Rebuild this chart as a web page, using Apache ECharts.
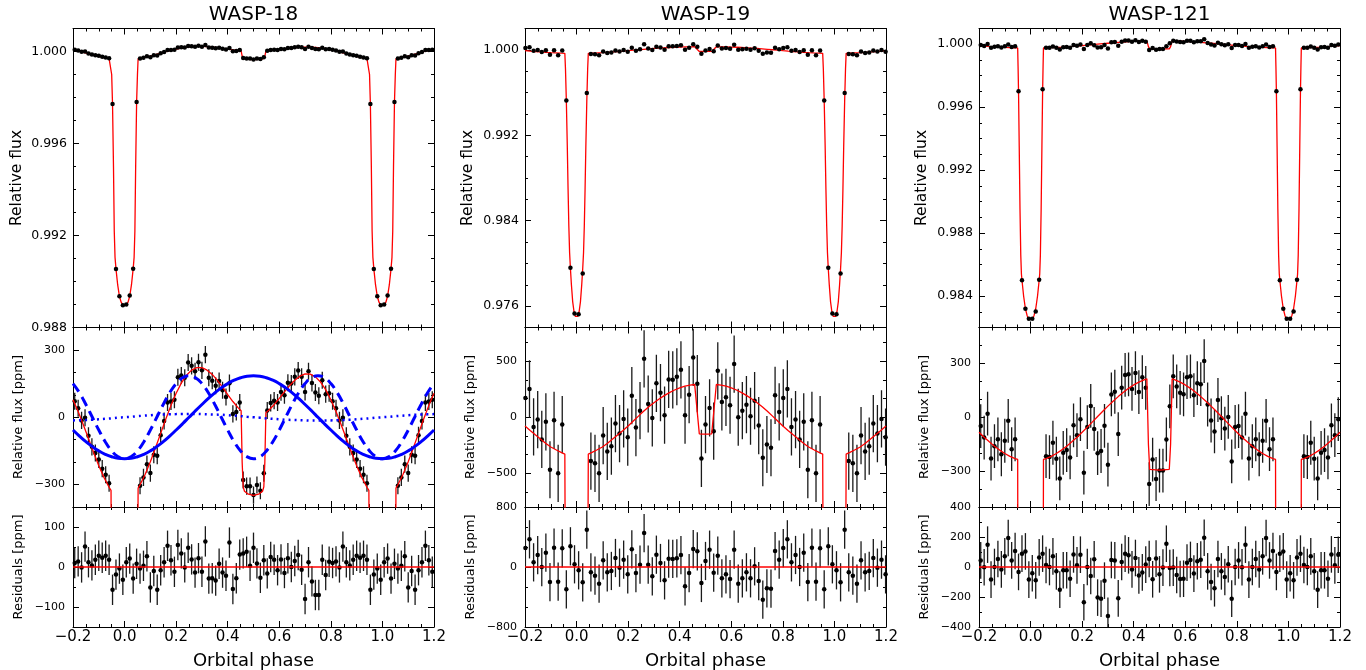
<!DOCTYPE html>
<html><head><meta charset="utf-8">
<script src="https://cdn.jsdelivr.net/npm/echarts@6/dist/echarts.min.js"></script>
<style>html,body{margin:0;padding:0;background:#fff}#c{width:1366px;height:670px}</style>
</head><body><div id="c"></div>
<script>
// ---------------- DATA ----------------
const starNames = ['WASP-18', 'WASP-19', 'WASP-121'];
const binsPerOrbit = [75, 63, 75];          // phase bins per orbit
const firstBinOffset = [-15, -13, -15];     // bin index of first bin (centre = (i+off+0.5)/N)

const xMajorTicks = [-0.2, 0, 0.2, 0.4, 0.6, 0.8, 1.0, 1.2];
const xMinorTicks = [-0.15,-0.1,-0.05,0.05,0.1,0.15,0.25,0.3,0.35,0.45,0.5,0.55,0.65,0.7,0.75,0.85,0.9,0.95,1.05,1.1,1.15];

// relative flux - 1, ppm, one orbit of bins
const w18Flux = [71, 40, -14, -2, -83, -132, -159, -188, -229, -256, -294,
 -2287, -9453, -10640, -11030, -11000, -10610, -9450, -2200,
 -305, -268, -209, -249, -167, -172, -80, -17, 66, 70, 78, 178, 186, 176, 244, 229, 205, 245, 209, 279, 176, 163, 140, 162, 120, 90, 152, 15, 23, 66,
 -280, -307, -307, -347, -302, -328, -250,
 30, 64, 74, 66, 112, 98, 154, 150, 180, 208, 180, 113, 205, 153, 110, 96, 165, 103, 107];
const w18Resid = [10,14,-1,51,12,4,18,28,23,28, 18,-57,-19,-4,-32,12,21,-29,8,-4,
 3,27,-51,-10,-57,-8,12,53,17,-12, 55,34,-1,48,19,-14,22,-12,64,-29,
 -28,-34,8,-14,-22,61,-55,-28,31,34, 38,3,48,9,-27,17,-16,25,18,-8,
 19,-15,22,0,15,30,-7,-80,12,-36, -70,-70,18,-20,13];
const w18Err = 38;

const w19Flux = [172, 252, -86, -21, -198, -41, -468, -27, -500, -65,
 -4740, -20410, -24690, -24750, -20940, -4030,
 -391, -411, -500, -163, -305, -258, -56, -145, -15, -178, 192, -92, 59, 521, 118, -6, 302, 219, 18, 337, 334, 361, 423, 18, 201, 533,
 299, -367, -65, 83, -124,
 414, 136, 178, 107, 474, 0, 59, 112, 9, 148, -74, -361, -243, -272, 195, 47];
const w19Resid = [253,369,62,160,0,191,-200,258,-196,249, -298,276,36,-44,-204,498,-71,-116,-222,89,
 -71,-53,120,-9,98,-98,236,-80,31,453, 31,-124,164,53,-178,111,107,116,160,-258,
 -80,240,209,-213,80,231,-76,151,-151,-98, -160,231,-222,-151,-71,-151,9,-187,-436,-284,
 -289,213,98];
const w19Err = 255;

const w121Flux = [-49, -113, 20, -230, -161, -123, -206, -131, -20, -178, -123,
 -2990, -15000, -16810, -17440, -17440, -16980, -14960, -2860,
 -217, -222, -142, -231, -341, -198, -183, -224, -45, -100, -11, -309, -55, 63, -65, -200, -188, -48, -264, 127, 142, -94, 165, 236, 239, 158, 246, 140,
 223, 164, -372, -236, -344, -297, -297, -124, 61,
 228, 172, 136, 128, 223, 228, 123, 190, 184, 313, 71, -18, -79, 96, -5, -63, 2, -246, -54];
const w121Resid = [44,-2,149,-84,0,53,-16,71,193,44, 107,-33,89,104,-84,-42,-89,64,89,13,
 0,71,-29,-151,-22,-22,-78,84,11,82, -235,0,-60,51,-204,-211,-91,-326,47,44,
 -209,33,89,78,-16,60,-56,-36,16,53, -82,56,-49,-4,155,-7,-4,-53,-80,-78,
 29,47,-44,38,49,195,-29,-100,-142,53, -29,-67,18,-211,0];
const w121Err = 122;

// model curves (ppm) over one orbit, phase -0.2 .. 0.8
const w18ModelPhase = [-0.2,-0.18,-0.16,-0.14,-0.12,-0.10,-0.08,-0.06,
 -0.0525,-0.050,-0.0467,-0.043,-0.040,-0.037,-0.0333,-0.0267,-0.020,-0.0133,-0.0067, 0,
 0.0067,0.0133,0.020,0.0267,0.0333,0.037,0.040,0.043,0.0467,0.050,0.0525,
 0.06,0.08,0.10,0.12,0.14,0.16,0.18,0.20, 0.22,0.24,0.26,0.28,0.30,0.32,0.34,0.36,0.38,0.40,0.42,0.44,
 0.452,0.456,0.460,0.465,0.48,0.50,0.52,0.535,0.540,0.544,0.548,
 0.56,0.58,0.60,0.62,0.64,0.66,0.68,0.70,0.72,0.74,0.76,0.78,0.80];
const w18ModelPpm = [78,26,-33,-95,-157,-216,-268,-312,
 -326,-1000,-2290,-5000,-7800,-8950,-9450,-10150,-10640,-10900,-11020, -11050,
 -11020,-10900,-10640,-10150,-9450,-8950,-7800,-5000,-2200,-1000,-316,
 -301,-254,-198,-136,-72,-8,53,107, 152,187,210,221,221,210,191,164,134,101,70,43,
 29,-200,-310,-330,-343,-348,-343,-330,-310,-200,20,
 32,56,84,113,141,165,183,193,192,180,157,123,78];

const w19ModelPhase = [-0.2,-0.18,-0.16,-0.14,-0.12,-0.10,-0.08,-0.06,
 -0.0455,-0.043,-0.0397,-0.036,-0.033,-0.030,-0.027,-0.0238,-0.020,-0.015,-0.010,-0.005, 0,
 0.005,0.010,0.015,0.020,0.0238,0.027,0.030,0.033,0.036,0.0397,0.043,0.0455,
 0.06,0.08,0.10,0.12,0.14,0.16,0.18,0.20, 0.22,0.24,0.26,0.28,0.30,0.32,0.34,0.36,0.38,0.40,0.42,0.44,
 0.458,0.476,0.49,0.51,0.524,0.542,
 0.56,0.58,0.60,0.62,0.64,0.66,0.68,0.70,0.72,0.74,0.76,0.78,0.80];
const w19ModelPpm = [-78,-119,-157,-194,-232,-265,-290,-313,
 -328,-1800,-4740,-9000,-13000,-16500,-19000,-20500,-22000,-23600,-24500,-24950, -25060,
 -24950,-24500,-23600,-22000,-20500,-19000,-16500,-13000,-9000,-4740,-1800,-328,
 -313,-290,-265,-232,-194,-157,-119,-78, -34,10,54,94,130,163,193,220,243,262,277,287,
 292,-148,-150,-150,-148,292,
 287,277,262,243,220,193,163,130,94,54,10,-34,-78];

const w121ModelPhase = [-0.2,-0.18,-0.16,-0.14,-0.12,-0.10,-0.08,-0.06,
 -0.050,-0.0485,-0.0467,-0.044,-0.041,-0.038,-0.0355,-0.0333,-0.027,-0.020,-0.0133,-0.0067, 0,
 0.0067,0.0133,0.020,0.027,0.0333,0.0355,0.038,0.041,0.044,0.0467,0.0485,0.050,
 0.06,0.08,0.10,0.12,0.14,0.16,0.18,0.20, 0.22,0.24,0.26,0.28,0.30,0.32,0.34,0.36,0.38,0.40,0.42,0.44,
 0.451,0.457,0.462,0.5,0.538,0.543,0.549,
 0.56,0.58,0.60,0.62,0.64,0.66,0.68,0.70,0.72,0.74,0.76,0.78,0.80];
const w121ModelPpm = [-84,-111,-137,-161,-183,-202,-218,-230,
 -235,-1400,-2990,-6500,-10500,-13400,-14600,-15000,-16000,-16810,-17250,-17450, -17500,
 -17450,-17250,-16810,-16000,-15000,-14600,-13400,-10500,-6500,-2990,-1400,-235,
 -230,-218,-202,-183,-161,-137,-111,-84, -55,-26,4,33,62,89,115,139,161,180,196,208,
 214,-150,-290,-295,-290,-150,214,
 208,196,180,161,139,115,89,62,33,4,-26,-55,-84];

// WASP-18 phase-curve components (ppm), phase -0.2 .. 1.2 every 0.025
const w18Reflection = [-57,-84,-109,-131,-150,-165,-176,-183,-185,-183,-176,-165,-150,-131,-109,-84,-57,
 -29,0,29,57,84,109,131,150,165,176,183,185,
 183,176,165,150,131,109,84,57,29,0,-29,-57,-84,-109,-131,-150,-165,-176,-183,-185,
 -183,-176,-165,-150,-131,-109,-84,-57];
const w18Ellipsoidal = [150,109,57,0,-57,-109,-150,-176,-185,-176,-150,-109,-57,0,57,109,150,176,185,176,
 150,109,57,0,-57,-109,-150,-176,-185,-176,-150,-109,-57,0,57,109,150,176,185,176,
 150,109,57,0,-57,-109,-150,-176,-185,-176,-150,-109,-57,0,57,109,150];
const w18Beaming = [-14,-13,-12,-11,-9,-7,-5,-2,0,2,5,7,9,11,12,13,14,15,15,15,14,13,12,11,9,7,5,2,0,
 -2,-5,-7,-9,-11,-12,-13,-14,-15,-15,-15,-14,-13,-12,-11,-9,-7,-5,-2,0,2,5,7,9,11,12,13,14];
const componentPhase = w18Reflection.map((_, i) => -0.2 + 0.025 * i);

// y-axis ticks per column: [top, middle, bottom]
const yTicks = [
 [{min:0.988,max:1.001,major:[0.988,0.992,0.996,1.000],minor:[0.989,0.990,0.991,0.993,0.994,0.995,0.997,0.998,0.999]},
  {min:-400,max:400,major:[-300,0,300],minor:[-200,-100,100,200]},
  {min:-150,max:150,major:[-100,0,100],minor:[-50,50]}],
 [{min:0.974,max:1.002,major:[0.976,0.984,0.992,1.000],minor:[0.978,0.980,0.982,0.986,0.988,0.990,0.994,0.996,0.998]},
  {min:-800,max:800,major:[-500,0,500],minor:[-666.67,-333.33,-166.67,166.67,333.33,666.67]},
  {min:-800,max:800,major:[-800,0,800],minor:[-533.33,-266.67,266.67,533.33]}],
 [{min:0.982,max:1.001,major:[0.984,0.988,0.992,0.996,1.000],minor:[0.983,0.985,0.986,0.987,0.989,0.990,0.991,0.993,0.994,0.995,0.997,0.998,0.999]},
  {min:-500,max:500,major:[-300,0,300],minor:[-400,-200,-100,100,200,400]},
  {min:-400,max:400,major:[-400,-200,0,200,400],minor:[-300,-100,100,300]}]
];

// ---------------- LAYOUT ----------------
const FONT = 'DejaVu Sans';
const colLeft = [73, 525, 979];
const colWidth = 361;
const rowTop = [28.5, 327.5, 507];
const rowHeight = [299, 179.5, 120];
const yNameX = [[16.5, 19, 18.5], [468, 471, 471], [922, 925, 925]];
const yNameY = [178, 417, 567];
const yNames = ['Relative flux', 'Relative flux [ppm]', 'Residuals [ppm]'];
const yNameSize = [15.5, 13, 13];

const stars = [
 {flux:w18Flux, resid:w18Resid, err:w18Err, mp:w18ModelPhase, mv:w18ModelPpm},
 {flux:w19Flux, resid:w19Resid, err:w19Err, mp:w19ModelPhase, mv:w19ModelPpm},
 {flux:w121Flux, resid:w121Resid, err:w121Err, mp:w121ModelPhase, mv:w121ModelPpm}
];

function expandBins(base, N, off) {
  const out = [];
  for (let i = 0; ; i++) {
    const ph = (i + off + 0.5) / N;
    if (ph > 1.2) break;
    out.push([ph, base[i % N]]);
  }
  return out;
}
function expandModel(ph, v) {
  const out = ph.map((p, i) => [p, v[i]]);
  for (let i = 0; i < ph.length; i++) {
    if (ph[i] > -0.2 + 1e-9 && ph[i] <= 0.2 + 1e-9) out.push([ph[i] + 1, v[i]]);
  }
  return out;
}
const fmtX = v => (v < -1e-9 ? '\u2212' : '') + Math.abs(v).toFixed(1);
const fmtInt = v => (v < 0 ? '\u2212' + Math.abs(Math.round(v)) : String(Math.round(v)));
const fmtFlux = v => v.toFixed(3);

const grids = [], xAxes = [], yAxes = [], series = [], graphics = [];
const tickLine = {color: '#000', width: 1};
const noLine = {show: false, onZero: false};

function addPanel(col, row) {
  const g = grids.length;
  grids.push({left: colLeft[col], top: rowTop[row], width: colWidth, height: rowHeight[row]});
  const xi = xAxes.length;
  const xb = {gridIndex: g, type: 'value', min: -0.2, max: 1.2, splitLine: {show: false}};
  xAxes.push(Object.assign({}, xb, {position: 'bottom',
    axisLine: {show: true, onZero: false, lineStyle: tickLine},
    axisTick: {show: true, inside: true, length: 6, customValues: xMajorTicks, lineStyle: tickLine},
    axisLabel: {show: row === 2, customValues: xMajorTicks, formatter: fmtX, fontSize: 15, color: '#000', fontFamily: FONT, margin: 3}}));
  xAxes.push(Object.assign({}, xb, {position: 'bottom', axisLine: noLine,
    axisTick: {show: true, inside: true, length: 3, customValues: xMinorTicks, lineStyle: tickLine}, axisLabel: {show: false}}));
  xAxes.push(Object.assign({}, xb, {position: 'top',
    axisLine: {show: true, onZero: false, lineStyle: tickLine},
    axisTick: {show: true, inside: true, length: 6, customValues: xMajorTicks, lineStyle: tickLine}, axisLabel: {show: false}}));
  xAxes.push(Object.assign({}, xb, {position: 'top', axisLine: noLine,
    axisTick: {show: true, inside: true, length: 3, customValues: xMinorTicks, lineStyle: tickLine}, axisLabel: {show: false}}));

  const yc = yTicks[col][row];
  const yi = yAxes.length;
  const yb = {gridIndex: g, type: 'value', min: yc.min, max: yc.max, splitLine: {show: false}, scale: true};
  yAxes.push(Object.assign({}, yb, {position: 'left',
    axisLine: {show: true, onZero: false, lineStyle: tickLine},
    axisTick: {show: true, inside: true, length: 6, customValues: yc.major, lineStyle: tickLine},
    axisLabel: {show: true, customValues: yc.major, formatter: row === 0 ? fmtFlux : fmtInt,
      fontSize: row === 0 ? 12.5 : 11, color: '#000', fontFamily: FONT, margin: row === 0 ? 6 : 8}}));
  yAxes.push(Object.assign({}, yb, {position: 'left', axisLine: noLine,
    axisTick: {show: true, inside: true, length: 3, customValues: yc.minor, lineStyle: tickLine}, axisLabel: {show: false}}));
  yAxes.push(Object.assign({}, yb, {position: 'right',
    axisLine: {show: true, onZero: false, lineStyle: tickLine},
    axisTick: {show: true, inside: true, length: 6, customValues: yc.major, lineStyle: tickLine}, axisLabel: {show: false}}));
  yAxes.push(Object.assign({}, yb, {position: 'right', axisLine: noLine,
    axisTick: {show: true, inside: true, length: 3, customValues: yc.minor, lineStyle: tickLine}, axisLabel: {show: false}}));
  return {xi, yi};
}

function errSeries(ax, pts, e) {
  return {type: 'custom', xAxisIndex: ax.xi, yAxisIndex: ax.yi, clip: true, silent: true, z: 2,
    data: pts.map(p => [p[0], p[1] - e, p[1] + e]),
    encode: {x: 0, y: [1, 2]},
    renderItem: (params, api) => {
      const a = api.coord([api.value(0), api.value(1)]);
      const b = api.coord([api.value(0), api.value(2)]);
      return {type: 'line', shape: {x1: a[0], y1: a[1], x2: b[0], y2: b[1]},
        style: {stroke: '#1a1a1a', lineWidth: 1.3}};
    }};
}
function dotSeries(ax, pts) {
  return {type: 'scatter', xAxisIndex: ax.xi, yAxisIndex: ax.yi, data: pts, symbol: 'circle',
    symbolSize: 4.5, itemStyle: {color: '#000', opacity: 1}, silent: true, z: 3};
}
function lineSeries(ax, pts, color, width, type, z, smooth) {
  return {type: 'line', xAxisIndex: ax.xi, yAxisIndex: ax.yi, data: pts, showSymbol: false, symbol: 'none',
    smooth: smooth || false, clip: true, silent: true, z: z,
    lineStyle: {color: color, width: width, type: type || 'solid', cap: 'butt'}};
}

stars.forEach((s, c) => {
  const N = binsPerOrbit[c], off = firstBinOffset[c];
  const pts = expandBins(s.flux, N, off);
  const res = expandBins(s.resid, N, off);
  const model = expandModel(s.mp, s.mv);

  // top: relative flux
  const a0 = addPanel(c, 0);
  series.push(lineSeries(a0, model.map(p => [p[0], 1 + p[1] * 1e-6]), '#ff0000', 1.3, 'solid', 2));
  series.push(dotSeries(a0, pts.map(p => [p[0], 1 + p[1] * 1e-6])));

  // middle: phase curve in ppm
  const a1 = addPanel(c, 1);
  series.push(errSeries(a1, pts, s.err));
  series.push(dotSeries(a1, pts));
  series.push(lineSeries(a1, model, '#ff0000', 1.3, 'solid', 4));
  if (c === 0) {
    const comp = arr => arr.map((v, i) => [componentPhase[i], v]);
    series.push(lineSeries(a1, comp(w18Reflection), '#0000ff', 3, 'solid', 5, true));
    series.push(lineSeries(a1, comp(w18Ellipsoidal), '#0000ff', 3, [10, 6], 5, true));
    series.push(lineSeries(a1, comp(w18Beaming), '#0000ff', 2.5, [2, 4], 5, true));
  }

  // bottom: residuals
  const a2 = addPanel(c, 2);
  series.push(errSeries(a2, res, s.err));
  series.push(dotSeries(a2, res));
  series.push(lineSeries(a2, [[-0.2, 0], [1.2, 0]], '#ff0000', 1.5, 'solid', 4));

  // texts
  const cx = colLeft[c] + colWidth / 2;
  graphics.push(txt(cx, 15, starNames[c], 20, 0));
  graphics.push(txt(cx, 661, 'Orbital phase', 18, 0));
  for (let r = 0; r < 3; r++) graphics.push(txt(yNameX[c][r], yNameY[r], yNames[r], yNameSize[r], Math.PI / 2));
});

function txt(x, y, text, size, rot) {
  return {type: 'text', x: x, y: y, rotation: rot, silent: true, z: 100,
    style: {text: text, fill: '#000', font: size + 'px "' + FONT + '"',
      textAlign: 'center', textVerticalAlign: 'middle', align: 'center', verticalAlign: 'middle'}};
}

const chart = echarts.init(document.getElementById('c'), null, {renderer: 'canvas'});
chart.setOption({
  animation: false,
  backgroundColor: '#fff',
  textStyle: {fontFamily: FONT},
  grid: grids, xAxis: xAxes, yAxis: yAxes, series: series, graphic: graphics
});
</script></body></html>
